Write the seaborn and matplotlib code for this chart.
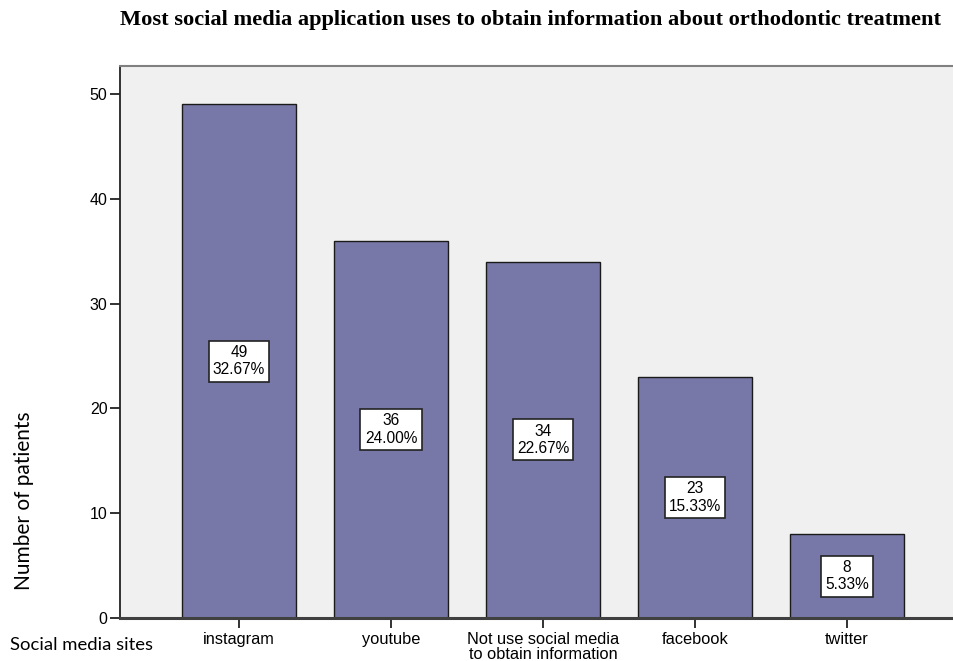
import matplotlib
matplotlib.use("Agg")
import matplotlib.pyplot as plt
import seaborn as sns
import pandas as pd

categories = ["instagram", "youtube", "Not use social media\nto obtain information", "facebook", "twitter"]
counts = [49, 36, 34, 23, 8]
percents = ["32.67%", "24.00%", "22.67%", "15.33%", "5.33%"]
yticks = [0, 10, 20, 30, 40, 50]

title = "Most social media application uses to obtain information about orthodontic treatment"
ylabel = "Number of patients"
xlabel = "Social media sites"

sns.set_theme(style="white")
plt.rcParams['font.family'] = ['Liberation Sans', 'DejaVu Sans']
plt.rcParams['text.color'] = 'black'
plt.rcParams['xtick.color'] = 'black'
plt.rcParams['ytick.color'] = 'black'

W, H = 954, 661
fig = plt.figure(figsize=(W / 100, H / 100), dpi=100)
ax = fig.add_axes([120 / W, 1 - 618 / H, (W - 120) / W, (618 - 66) / H])
ax.set_facecolor("#F0F0F0")

df = pd.DataFrame({"cat": categories, "n": counts})
sns.barplot(data=df, x="cat", y="n", color="#7878A8", saturation=1, width=0.75,
            edgecolor="#1a1a1a", linewidth=1.0, ax=ax, zorder=2)

ax.set_xlim(-0.783, 4.704)
ax.set_ylim(0, 52.67)
ax.set_yticks(yticks)
ax.set_xlabel("")
ax.set_ylabel("")

for i, (v, p) in enumerate(zip(counts, percents)):
    ax.text(i, v / 2, f"{v}\n{p}", ha="center", va="center", fontsize=11.2,
            linespacing=1.2, zorder=5, color="black",
            bbox=dict(boxstyle="square,pad=0.28", facecolor="white", edgecolor="#222222", linewidth=1.2))

ax.spines["right"].set_visible(False)
ax.spines["top"].set_color("#808080")
ax.spines["top"].set_linewidth(1.5)
ax.spines["left"].set_color("#222222")
ax.spines["left"].set_linewidth(1.3)
ax.spines["bottom"].set_color("#404040")
ax.spines["bottom"].set_linewidth(2.2)

ax.tick_params(axis="y", direction="out", length=7, width=1.3, color="#222222",
               labelsize=11.5, pad=2, left=True, labelcolor="black")
ax.tick_params(axis="x", direction="out", length=7, width=1.3, color="#222222",
               labelsize=11.8, pad=3, bottom=True, labelcolor="black")
for lab in ax.get_xticklabels():
    lab.set_linespacing(1.05)

fig.text(531 / W, 1 - 20 / H, title, ha="center", va="center", fontsize=16.1,
         fontweight="bold", color="black", family=["Liberation Serif", "DejaVu Serif"])
fig.text(24 / W, 1 - 501 / H, ylabel, ha="center", va="center", rotation=90,
         fontsize=15, color="black", family=["Lato", "DejaVu Sans"])
fig.text(10 / W, 1 - 645 / H, xlabel, ha="left", va="center",
         fontsize=13.3, color="black", family=["Lato", "DejaVu Sans"])

fig.savefig("out.png", dpi=100)
